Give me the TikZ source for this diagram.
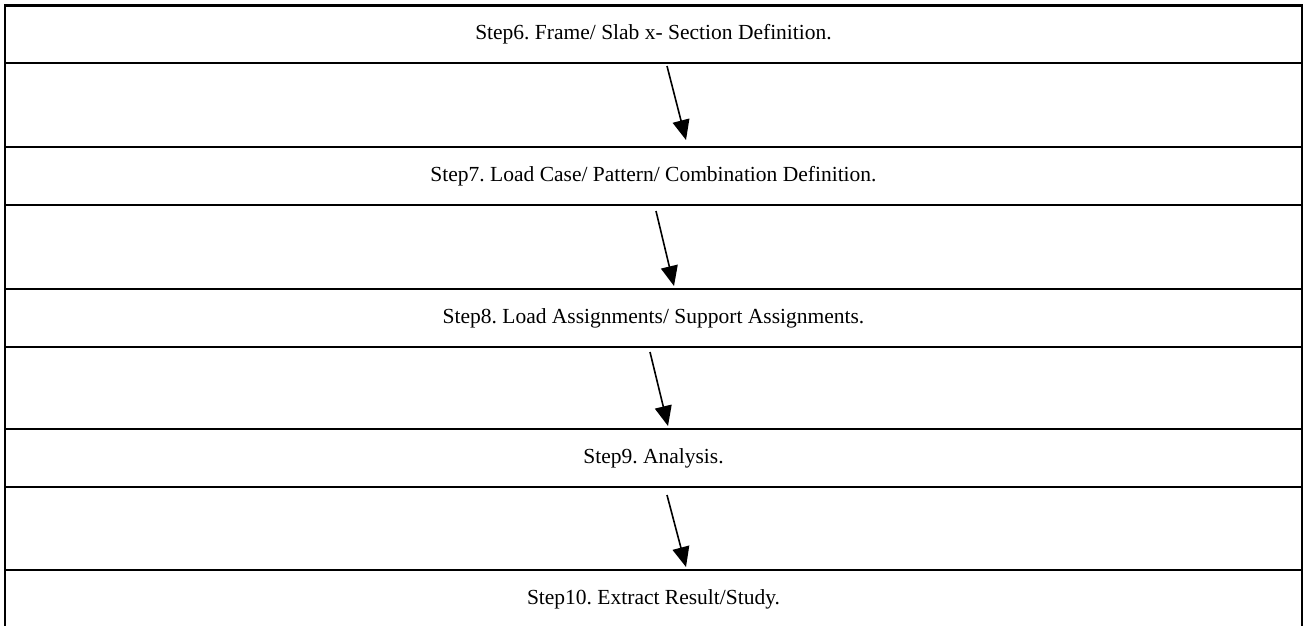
\documentclass[tikz,border=0pt]{standalone}
\usepackage{fontspec}
\setmainfont{Liberation Serif}
\usetikzlibrary{arrows.meta}
\begin{document}
\frenchspacing
\begin{tikzpicture}[x=1pt,y=-1pt,
  stepbox/.style={draw,line width=1.9pt,minimum width=1297pt,anchor=north,inner sep=0pt,
    font=\fontsize{21.5}{25}\selectfont},
  arr/.style={line width=1.6pt,-{Triangle[length=20pt,width=17pt]}}]
\useasboundingbox (0,0) rectangle (1304,625);
\begin{scope}
\clip (0,0) rectangle (1304,625);
\draw[line width=1.9pt] (5,5) rectangle (1302,640);
\node[stepbox,minimum height=57pt] (s6) at (653.5,5) {Step6. Frame/ Slab x- Section Definition.};
\node[stepbox,minimum height=58pt] (s7) at (653.5,146) {Step7. Load Case/ Pattern/ Combination Definition.};
\node[stepbox,minimum height=58pt] (s8) at (653.5,288) {Step8. Load Assignments/ Support Assignments.};
\node[stepbox,minimum height=58pt] (s9) at (653.5,428) {Step9. Analysis.};
\node[stepbox,minimum height=58pt] (s10) at (653.5,569) {Step10. Extract Result/Study.};
\end{scope}
\coordinate (a1s) at (667,66);  \coordinate (a1e) at (686,140);
\coordinate (a2s) at (656,211); \coordinate (a2e) at (674,286);
\coordinate (a3s) at (650,352); \coordinate (a3e) at (668,426);
\coordinate (a4s) at (667,495); \coordinate (a4e) at (686,567);
\draw[arr] (a1s) -- (a1e);
\draw[arr] (a2s) -- (a2e);
\draw[arr] (a3s) -- (a3e);
\draw[arr] (a4s) -- (a4e);
\end{tikzpicture}
\end{document}
